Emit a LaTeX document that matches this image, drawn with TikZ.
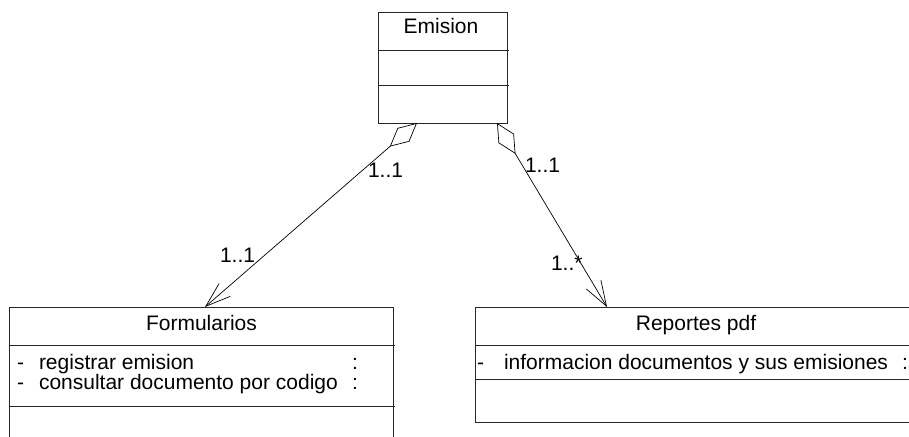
\documentclass[tikz,border=0pt]{standalone}
\usepackage{fontspec}
\setmainfont{Liberation Sans}
\usetikzlibrary{arrows.meta}
\tikzset{
  boxline/.style={draw=black!85, line width=1pt},
  txt/.style={inner sep=0pt, outer sep=0pt, anchor=base west, font=\fontsize{21}{25}\selectfont},
  ctxt/.style={txt, anchor=base},
  assoc/.style={draw=black, line width=0.7pt,
    {Diamond[open,length=36pt,width=18pt,line width=0.7pt]}-{Straight Barb[length=25pt,width=17pt,line width=0.7pt]}}
}
\begin{document}
\begin{tikzpicture}[x=1pt,y=-1pt]
\useasboundingbox (0,0) rectangle (909,436);
\clip (0,0) rectangle (909,436);
% Emision
\draw[boxline] (378,13) rectangle (507,123);
\draw[boxline] (378,51) -- (509,51);
\draw[boxline] (378,85) -- (509,85);
\node[ctxt] (emision) at (441,34) {Emision};
% Formularios
\draw[boxline] (9,307) rectangle (393,449);
\draw[boxline] (9,345) -- (395,345);
\draw[boxline] (9,406) -- (395,406);
\node[ctxt] (formularios) at (201.5,330) {Formularios};
\node[txt] (f1d) at (17,369) {-};
\node[txt] (f1) at (39,369) {registrar emision};
\node[txt] (f1c) at (352,369) {:};
\node[txt] (f2d) at (17,389) {-};
\node[txt] (f2) at (39,389) {consultar documento por codigo};
\node[txt] (f2c) at (352,389) {:};
% Reportes pdf
\draw[boxline] (475,307) rectangle (917,422);
\draw[boxline] (475,345) -- (917,345);
\draw[boxline] (475,379) -- (917,379);
\node[ctxt] (reportes) at (696,330) {Reportes pdf};
\node[txt] (r1d) at (477,369) {-};
\node[txt] (r1) at (504,369) {informacion documentos y sus emisiones};
\node[txt] (r1c) at (902,369) {:};
% connectors
\coordinate (eL) at (417,123);
\coordinate (eR) at (497,123);
\coordinate (fT) at (205,307);
\coordinate (rT) at (607,307);
\draw[assoc] (eL) -- (fT);
\draw[assoc] (eR) -- (rT);
% multiplicities
\node[txt] (m1) at (368,177) {1..1};
\node[txt] (m2) at (220,262) {1..1};
\node[txt] (m3) at (525,172) {1..1};
\node[txt] (m4) at (551,270) {1..*};
\end{tikzpicture}
\end{document}
